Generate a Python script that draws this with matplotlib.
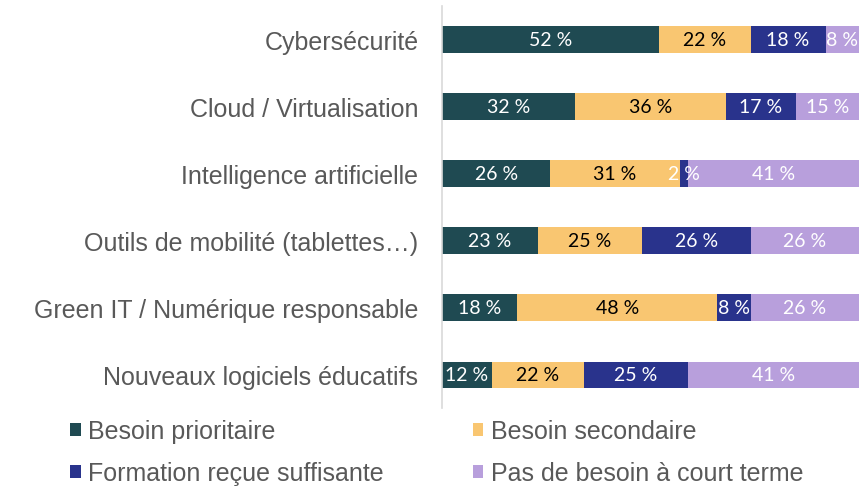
import numpy as np
import matplotlib.pyplot as plt
from matplotlib.patches import Patch

# categories top to bottom
categories = ['Cybersécurité', 'Cloud / Virtualisation', 'Intelligence artificielle',
              'Outils de mobilité (tablettes…)', 'Green IT / Numérique responsable',
              'Nouveaux logiciels éducatifs']
series_names = ['Besoin prioritaire', 'Besoin secondaire',
                'Formation reçue suffisante', 'Pas de besoin à court terme']
prioritaire = [52, 32, 26, 23, 18, 12]
secondaire = [22, 36, 31, 25, 48, 22]
formation = [18, 17, 2, 26, 8, 25]
pas_besoin = [8, 15, 41, 26, 26, 41]

colors = ['#1F4A52', '#F9C671', '#29338C', '#B89FDC']
label_colors = ['white', 'black', 'white', 'white']
fsize = 18

fig = plt.figure(figsize=(8.59, 4.89), dpi=100)
ax = fig.add_axes([0.5146, 0.1626, 0.4854, 0.8231])

y = np.arange(len(categories))
left = np.zeros(len(categories))
for vals, col, lc, name in zip([prioritaire, secondaire, formation, pas_besoin],
                               colors, label_colors, series_names):
    vals = np.array(vals, dtype=float)
    ax.barh(y, vals, left=left, height=0.4, color=col, label=name)
    for yi, (l, v) in enumerate(zip(left, vals)):
        ax.text(l + v / 2, yi, f'{int(v)} %', ha='center', va='center',
                color=lc, fontsize=14, family='Lato')
    left += vals

ax.set_xlim(0, 100)
ax.set_ylim(len(categories) - 0.5, -0.5)
ax.set_yticks(y)
ax.set_yticklabels(categories, fontsize=fsize, color='#595959', family='Liberation Sans')
ax.tick_params(axis='y', length=0, pad=17)
ax.set_xticks([])
for s in ['top', 'right', 'bottom']:
    ax.spines[s].set_visible(False)
ax.spines['left'].set_color('#D9D9D9')
ax.spines['left'].set_linewidth(1.2)

# legend: two columns placed separately, row-major order as in the original
handles = [Patch(facecolor=c) for c in colors]
for idx, x0 in [((0, 2), 0.0815), ((1, 3), 0.5506)]:
    fig.legend([handles[i] for i in idx], [series_names[i] for i in idx],
               loc='upper left', bbox_to_anchor=(x0, 0.141), ncol=1, frameon=False,
               borderpad=0, borderaxespad=0, handlelength=0.42, handleheight=0.42,
               handletextpad=0.3, labelspacing=0.72,
               prop={'family': 'Liberation Sans', 'size': fsize}, labelcolor='#595959')

fig.savefig('out.png', dpi=100)
